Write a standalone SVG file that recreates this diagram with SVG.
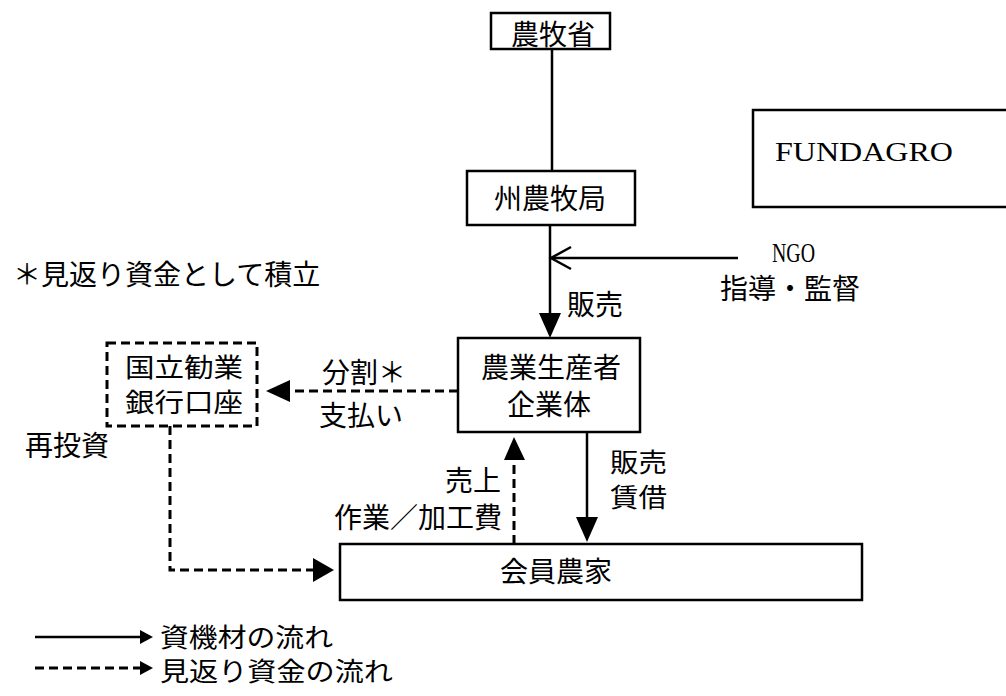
<svg xmlns="http://www.w3.org/2000/svg" width="1006" height="696" viewBox="0 0 1006 696">
<defs>
<style>
.box{fill:#fff;stroke:#000;stroke-width:2.5}
.dbox{fill:#fff;stroke:#000;stroke-width:3;stroke-dasharray:9 5}
.ln{fill:none;stroke:#000;stroke-width:2.5}
.dl{fill:none;stroke:#000;stroke-width:3;stroke-dasharray:9 5}
.jp{font-family:"Noto Sans CJK JP","Noto Sans",sans-serif;font-size:28px;fill:#000}
.jps{font-family:"Noto Sans CJK JP","Noto Sans",sans-serif;font-size:26px;fill:#000}
.en{font-family:"Liberation Serif",serif;font-size:28px;fill:#000}
</style>
</defs>
<rect width="1006" height="696" fill="#fff"/>

<g id="connectors">
<line class="ln" x1="552" y1="49" x2="552" y2="171"/>
<line class="ln" x1="550" y1="225" x2="550" y2="314"/>
<path d="M539,313 L561,313 L550,338 Z" fill="#000"/>
<line class="ln" x1="738" y1="258" x2="551" y2="258"/>
<polyline class="ln" points="571,247 551,258 571,269"/>
<line class="dl" x1="458" y1="391" x2="290" y2="391"/>
<path d="M290,380 L290,402 L266,391 Z" fill="#000"/>
<polyline class="dl" points="170,426 170,570 313,570"/>
<path d="M313,558 L313,582 L334,570 Z" fill="#000"/>
<line class="dl" x1="514" y1="544" x2="514" y2="460"/>
<path d="M504,460 L525,460 L514,437 Z" fill="#000"/>
<line class="ln" x1="587" y1="432" x2="587" y2="518"/>
<path d="M576,517 L598,517 L587,542 Z" fill="#000"/>
</g>

<g id="n-nouboku"><rect class="box" x="491" y="13" width="119" height="36"/><text class="jp" x="553" y="45" text-anchor="middle">農牧省</text></g>
<g id="n-shu"><rect class="box" x="467" y="171" width="168" height="54"/><text class="jp" x="550" y="209" text-anchor="middle">州農牧局</text></g>
<g id="n-fundagro"><rect class="box" x="753" y="110" width="270" height="97"/><text class="en" x="775" y="161" textLength="178" lengthAdjust="spacingAndGlyphs">FUNDAGRO</text></g>
<g id="n-ngo"><text class="en" x="772" y="262" font-size="29" textLength="43" lengthAdjust="spacingAndGlyphs">NGO</text><text class="jp" x="790" y="299" text-anchor="middle">指導・監督</text></g>
<g id="n-seisan"><rect class="box" x="458" y="338" width="182" height="94"/><text class="jp" x="551" y="378" text-anchor="middle">農業生産者</text><text class="jp" x="549" y="415" text-anchor="middle">企業体</text></g>
<g id="n-bank"><rect class="dbox" x="107" y="343" width="150" height="83"/><text class="jps" x="125" y="377" textLength="118" lengthAdjust="spacingAndGlyphs">国立勧業</text><text class="jps" x="125" y="412" textLength="118" lengthAdjust="spacingAndGlyphs">銀行口座</text></g>
<g id="n-kaiin"><rect class="box" x="340" y="544" width="522" height="56"/><text class="jp" x="556" y="582" text-anchor="middle">会員農家</text></g>

<g id="labels">
<text class="jp" x="13" y="285">＊見返り資金として積立</text>
<text class="jp" x="567" y="315">販売</text>
<text class="jp" x="322" y="383">分割＊</text>
<text class="jp" x="319" y="426">支払い</text>
<text class="jp" x="25" y="456">再投資</text>
<text class="jps" x="610" y="472" textLength="57" lengthAdjust="spacingAndGlyphs">販売</text>
<text class="jps" x="610" y="507" textLength="57" lengthAdjust="spacingAndGlyphs">賃借</text>
<text class="jp" x="501" y="491" text-anchor="end">売上</text>
<text class="jp" x="502" y="528" text-anchor="end">作業／加工費</text>
</g>

<g id="legend">
<line class="ln" x1="35" y1="637" x2="142" y2="637"/>
<path d="M140,630 L140,644 L153,637 Z" fill="#000"/>
<text class="jps" x="160" y="647" textLength="173" lengthAdjust="spacingAndGlyphs">資機材の流れ</text>
<line class="dl" x1="35" y1="668" x2="142" y2="668"/>
<path d="M140,661 L140,675 L153,668 Z" fill="#000"/>
<text class="jps" x="160" y="681" textLength="233" lengthAdjust="spacingAndGlyphs">見返り資金の流れ</text>
</g>
</svg>
